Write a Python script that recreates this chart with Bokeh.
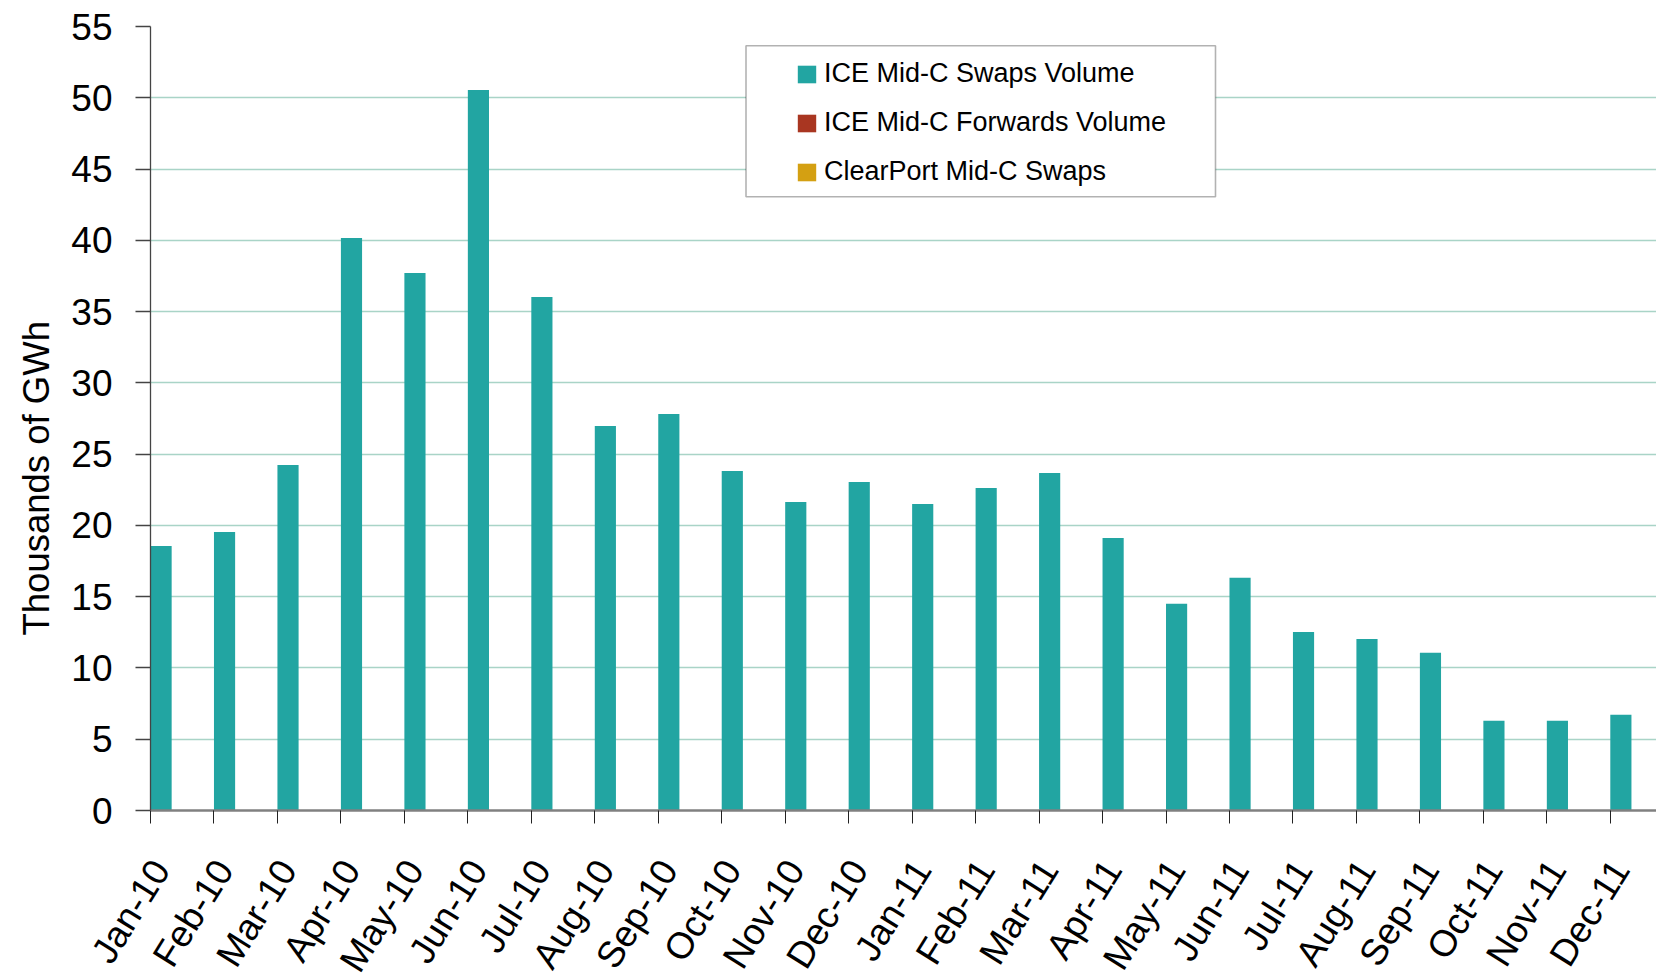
import math
from bokeh.plotting import figure
from bokeh.layouts import column
from bokeh.models import (FixedTicker, Range1d, Legend, LegendItem, BoxAnnotation,
                          Title, ColumnDataSource)
from bokeh.core.properties import value
from bokeh.embed import file_html
from bokeh.resources import INLINE

# ---- data -------------------------------------------------------------
months = ["Jan-10", "Feb-10", "Mar-10", "Apr-10", "May-10", "Jun-10",
          "Jul-10", "Aug-10", "Sep-10", "Oct-10", "Nov-10", "Dec-10",
          "Jan-11", "Feb-11", "Mar-11", "Apr-11", "May-11", "Jun-11",
          "Jul-11", "Aug-11", "Sep-11", "Oct-11", "Nov-11", "Dec-11"]
ice_swaps = [18.56, 19.54, 24.24, 40.17, 37.70, 50.54,
             36.02, 26.98, 27.82, 23.82, 21.65, 23.05,
             21.50, 22.63, 23.68, 19.12, 14.50, 16.32,
             12.53, 12.04, 11.06, 6.29, 6.29, 6.71]
ice_forwards = [0, 0, 0, 0, 0, 0, 0, 0, 0, 0, 0, 0,
                0, 0, 0, 0, 0, 0, 0, 0, 0, 0, 0, 0]
clearport_swaps = [0, 0, 0, 0, 0, 0, 0, 0, 0, 0, 0, 0,
                   0, 0, 0, 0, 0, 0, 0, 0, 0, 0, 0, 0]
series_names = ["ICE Mid-C Swaps Volume", "ICE Mid-C Forwards Volume",
                "ClearPort Mid-C Swaps"]
series_colors = ["#22a5a2", "#a93621", "#d4a012"]
y_ticks = [0, 5, 10, 15, 20, 25, 30, 35, 40, 45, 50, 55]
y_title = "Thousands of GWh"

FONT = "Liberation Sans"

# ---- layout constants ---------------------------------------------------
W = 1656
TOTAL_H = 979
LEFT = 150
TOP = 26
FRAME_H = 784
BOTTOM1 = 30
H1 = TOP + FRAME_H + BOTTOM1
H2 = TOTAL_H - H1
X0, X1 = -0.5, 23.228
px_per_unit = (W - LEFT) / (X1 - X0)
LABEL_SHIFT_PX = -21.5

positions = list(range(len(months)))
n_series = 3
bar_w = 1.0 / n_series
offsets = [-0.5 + (k + 0.5) * bar_w for k in range(n_series)]

p = figure(width=W, height=H1, output_backend="svg", toolbar_location=None,
           x_range=Range1d(X0, X1), y_range=Range1d(0, 55),
           min_border_left=LEFT, min_border_right=0, min_border_top=TOP,
           min_border_bottom=BOTTOM1, frame_align=False)
p.outline_line_color = None
p.background_fill_color = "white"
p.border_fill_color = "white"

renderers = []
for k, vals in enumerate([ice_swaps, ice_forwards, clearport_swaps]):
    src = ColumnDataSource(dict(x=[q + offsets[k] for q in positions], top=vals))
    r = p.vbar(x="x", top="top", bottom=0, width=bar_w, source=src,
               fill_color=series_colors[k], line_color=None)
    renderers.append(r)

# grid
p.xgrid.visible = False
p.ygrid.ticker = FixedTicker(ticks=y_ticks)
p.ygrid.grid_line_color = "#a9d4c7"
p.ygrid.grid_line_width = 1.3

# y axis
yax = p.yaxis[0]
yax.ticker = FixedTicker(ticks=y_ticks)
yax.major_label_text_font = FONT
yax.major_label_text_font_size = "37px"
yax.major_label_text_color = "black"
yax.major_label_standoff = 23
yax.major_tick_out = 15
yax.major_tick_in = 0
yax.major_tick_line_color = "#444444"
yax.major_tick_line_width = 1.3
yax.minor_tick_line_color = None
yax.axis_line_color = "#444444"
yax.axis_line_width = 1.3

# x axis: tick marks at category boundaries (labels drawn in the strip below)
xax = p.xaxis[0]
xax.ticker = FixedTicker(ticks=[],
                         minor_ticks=[q - 0.5 for q in positions] + [positions[-1] + 0.5])
xax.major_label_text_font_size = "0px"
xax.major_label_standoff = 0
xax.major_tick_out = 0
xax.major_tick_in = 0
xax.major_tick_line_color = None
xax.minor_tick_out = 13
xax.minor_tick_in = 0
xax.minor_tick_line_color = "#222222"
xax.minor_tick_line_width = 1
xax.axis_line_color = "#808080"
xax.axis_line_width = 2.5

# y-axis title
p.add_layout(Title(text=y_title, align="left", offset=175, standoff=24,
                   text_font=FONT, text_font_size="36.5px", text_font_style="normal",
                   text_color="black"), "left")

# legend box + legend
box = BoxAnnotation(left=595.5, right=1065, top=764.7, bottom=613.7,
                    left_units="screen", right_units="screen",
                    top_units="screen", bottom_units="screen",
                    fill_color="white", fill_alpha=1.0,
                    line_color="black", line_width=1.6)
p.add_layout(box)

legend = Legend(items=[LegendItem(label=series_names[k], renderers=[renderers[k]])
                       for k in range(n_series)],
                location=(645, 623))
legend.border_line_color = None
legend.background_fill_alpha = 0
legend.padding = 13
legend.spacing = 18
legend.glyph_width = 23
legend.glyph_height = 22
legend.label_standoff = 6
legend.label_text_font = FONT
legend.label_text_font_size = "27px"
legend.label_text_color = "black"
legend.margin = 0
p.add_layout(legend, "center")

# ---- category label strip (shares the x scale, extended to the page edge) ----
q = figure(width=W, height=H2, output_backend="svg", toolbar_location=None,
           x_range=Range1d(X0 - LEFT / px_per_unit, X1), y_range=Range1d(H2, 0),
           min_border_left=0, min_border_right=0, min_border_top=0,
           min_border_bottom=0, x_axis_location=None, y_axis_location=None,
           frame_align=False)
q.outline_line_color = None
q.grid.visible = False
q.background_fill_color = "white"
q.border_fill_color = "white"
anchor_y = 863 - H1
label_x = [pos + LABEL_SHIFT_PX / px_per_unit for pos in positions]
q.text(x=label_x, y=[anchor_y] * len(positions), text=months,
       angle=math.radians(58), text_align="right", text_baseline="middle",
       text_font=value(FONT), text_font_size=value("37px"), text_color="black")

open("out.html", "w").write(file_html(column(p, q, spacing=0), INLINE))
